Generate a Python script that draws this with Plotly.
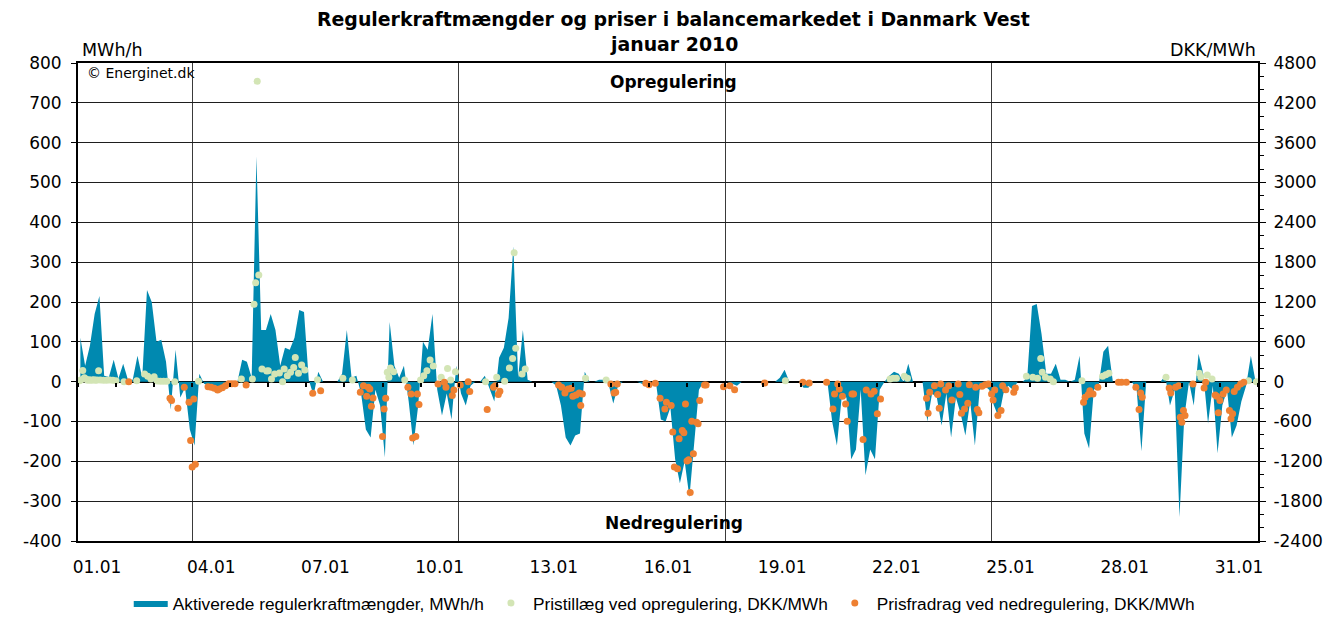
import pandas as pd
import plotly.graph_objects as go

title_line1 = "Regulerkraftmængder og priser i balancemarkedet i Danmark Vest"
title_line2 = "januar 2010"
name_area = "Aktiverede regulerkraftmængder, MWh/h"
name_up = "Pristillæg ved opregulering, DKK/MWh"
name_down = "Prisfradrag ved nedregulering, DKK/MWh"

# Activated regulating power, MWh/h, 3-hour steps (8 per day), 1-31 January 2010
area_mwh = [
    110, 40, 90, 170, 215, 15, 12, 55,          # 01
    8, 45, 5, 5, 65, 10, 230, 200,               # 02
    100, 105, 50, -70, 80, -40, -15, -120,       # 03
    -160, 20, -5, -10, -15, -15, -10, -10,       # 04
    -5, 0, 55, 50, 10, 565, 130, 130,            # 05
    170, 130, 40, 85, 80, 110, 180, 175,         # 06
    5, -35, 25, 0, 0, 0, 0, 20,                  # 07
    130, 10, 15, -30, -120, -140, -20, -60,      # 08
    -190, 150, 40, 10, 40, -50, -160, -60,       # 09
    100, 80, 170, -20, -85, -30, -95, 40,        # 10
    -30, -60, -10, 0, 0, 15, -20, -50,           # 11
    60, 85, 160, 340, 10, 130, 5, 0,             # 12
    0, 0, 0, 0, -10, -60, -140, -160,            # 13
    -135, -130, 25, 0, 0, 5, 5, -5,              # 14
    -55, -10, 0, 0, 0, 0, -5, -10,               # 15
    0, -5, -95, -100, -65, -195, -255, -200,     # 16
    -290, -150, -20, 0, 0, 0, 0, 0,              # 17
    0, -5, -10, 0, 0, 0, 0, 0,                   # 18
    0, 0, 0, 10, 30, 0, 0, 0,                    # 19
    -15, -15, 0, 0, 0, 0, -100, -160,            # 20
    -40, -40, -195, -170, -20, -235, -170, -195, # 21
    -20, 0, 15, 25, 20, 0, 45, 0,                # 22
    0, 0, -100, -30, -40, -110, -30, -140,       # 23
    -40, -80, -135, -50, -160, -20, -10, -20,    # 24
    -60, -90, -30, -10, -20, 0, 0, 10,           # 25
    190, 195, 120, 20, 20, 45, 5, 5,             # 26
    0, 5, 65, -130, -168, -20, -10, 75,          # 27
    90, 0, 0, 0, 0, 0, -20, -175,                # 28
    0, 0, 0, 0, 15, -60, -20, -340,              # 29
    -90, 0, -60, 70, 20, -105, -10, -180,        # 30
    -60, -20, -140, -110, -50, -10, 65, 0,       # 31
]

# Price premium for up-regulation (hour of month, DKK/MWh)
green_hour = [1, 2, 3, 4, 5, 6, 7, 8, 9, 10, 11, 12, 13, 14, 16, 18, 20, 22, 24, 29, 37,
              42, 44, 46, 48, 50, 52, 54, 56, 61, 76, 103, 110, 111, 112, 113, 114, 116, 119,
              120, 122, 124, 127, 129, 130, 132, 134, 136, 137, 139, 141, 143, 151, 167, 173,
              195, 196, 197, 199, 206, 216, 218, 220, 222, 224, 229, 233, 235, 238,
              257, 264, 269, 272, 274, 275, 276, 280, 282, 320, 333, 446,
              512, 514, 516, 521, 523, 598, 602, 605, 607, 608, 610, 613, 615,
              633, 646, 648, 650, 686, 707, 708, 712, 715, 738, 743]
green_dkk = [15, 30, 170, 60, 40, 20, 30, 20, 25, 30, 20, 25, 165, 25, 20, 20, 25, 20, 15, 0, 15,
             115, 80, 40, 75, 10, 5, 5, 5, 0, 5, 40, 40, 1165, 1490, 4525, 1605, 190, 160,
             165, 40, 115, 130, 0, 190, 90, 140, 215, 365, 125, 250, 175, 30, 50, 25,
             140, 65, 205, 150, 25, 25, 90, 165, 325, 235, 65, 200, 25, 150,
             0, 65, 5, 205, 350, 1940, 505, 115, 190, 50, 25, 15,
             40, 50, 50, 80, 50, 80, 65, 50, 350, 140, 65, 40, 0,
             15, 80, 105, 125, 65, 125, 65, 100, 40, 15, 0]

# Price discount for down-regulation (hour of month, DKK/MWh)
orange_hour = [32, 58, 59, 63, 67, 70, 71, 72, 73, 74, 82, 84, 86, 88, 89, 91, 93, 95, 97, 99, 106,
               148, 153, 178, 180, 182, 183, 184, 185, 186, 192, 193, 194, 208, 210, 211, 213, 214,
               215, 227, 231, 232, 236, 237, 241, 246,
               247, 258, 262, 263, 265, 266, 303, 305, 307, 309, 311, 312, 314, 316, 317, 318,
               336, 338, 339, 340, 358, 360, 364, 367,
               370, 371, 374, 375, 376, 378, 379, 381, 382, 383, 384, 385, 386, 387, 388, 390, 391,
               392, 395, 396, 407, 411, 414, 433, 457, 461, 472, 476, 477, 479, 480, 482, 484, 485,
               488, 489, 495,
               497, 500, 502, 504, 506, 535, 536, 537, 540, 542, 543, 544, 547, 549, 551, 555, 556,
               557, 559, 561, 562, 566, 567, 568, 570, 572, 574, 576, 577, 578, 580, 582, 583, 585,
               590, 591,
               634, 635, 637, 638, 640, 643, 656, 658, 661, 667, 669, 670, 671, 688, 689, 692, 694,
               695, 696, 697, 698, 703, 710, 711, 717, 718, 719, 720, 722, 724, 726, 727, 728, 729,
               731, 733, 735]
orange_dkk = [0, -250, -285, -400, -85, -310, -885, -1285, -260, -1245, -75, -85, -100, -125, -110,
              -90, -60, -30, -30, -30, -50,
              -175, -135, -160, -60, -220, -85, -110, -370, -245, -825, -410, -250, -85, -185, -850,
              -825, -185, -345, -35, -10, -85, -210, -125, -50, 0,
              -150, -420, -85, -60, -195, -145, -50, -85, -170, -110, -100, -220, -200, -170, -360,
              -185, -35, -170, -160, -35, -25, -45, -25, -250,
              -410, -310, -360, -760, -1285, -1310, -860, -735, -770, -335, -1195, -1175, -1670,
              -595, -1085, -610, -635, -285, -50, -50, -75, -60, -120, -20, -10, -20, -10, -410,
              -185, -35, -110, -220, -335, -595, -185, -185, -870,
              -125, -185, -145, -485, -260, -250, -475, -160, -60, -195, -400, -35, -125, -60, -275,
              -35, -195, -475, -410, -325, -45, -85, -420, -470, -70, -45, -35, -185, -275, -125,
              -510, -435, -60, -120, -160, -95,
              -310, -235, -195, -135, -185, -85, -10, -10, -10, -85, -420, -170, -235, -95, -170,
              -85, -60, -535, -610, -435, -510, -35, -95, -10, -200, -220, -470, -285, -185, -125,
              -435, -560, -485, -150, -85, -35, -10]

tick_days = [1, 4, 7, 10, 13, 16, 19, 22, 25, 28, 31]
tick_text = ["01.01", "04.01", "07.01", "10.01", "13.01", "16.01", "19.01", "22.01",
             "25.01", "28.01", "31.01"]
mwh_ticks = [-400, -300, -200, -100, 0, 100, 200, 300, 400, 500, 600, 700, 800]
dkk_ticks = [-2400, -1800, -1200, -600, 0, 600, 1200, 1800, 2400, 3000, 3600, 4200, 4800]

month_start = pd.Timestamp("2010-01-01")
month_end = pd.Timestamp("2010-02-01")
area_x = pd.date_range(month_start + pd.Timedelta(minutes=90), periods=len(area_mwh), freq="3h")
green_x = month_start + pd.to_timedelta(green_hour, unit="h")
orange_x = month_start + pd.to_timedelta(orange_hour, unit="h")
tick_x = [month_start + pd.Timedelta(days=d - 1, hours=12) for d in tick_days]

BLUE = "#0089B0"
GREEN = "#D3E5B5"
ORANGE = "#EE8032"
FONT = "DejaVu Sans"
TICK_SIZE = 17

fig = go.Figure()
fig.add_trace(go.Scatter(x=area_x, y=area_mwh, name=name_area, mode="lines",
                         line=dict(width=0, color=BLUE), fill="tozeroy",
                         fillcolor=BLUE, yaxis="y"))
fig.add_trace(go.Scatter(x=green_x, y=green_dkk, name=name_up, mode="markers",
                         marker=dict(size=7, color=GREEN), yaxis="y2"))
fig.add_trace(go.Scatter(x=orange_x, y=orange_dkk, name=name_down, mode="markers",
                         marker=dict(size=7, color=ORANGE), yaxis="y2"))
# helper traces for the label axis and the daily ticks on the zero line
fig.add_trace(go.Scatter(x=[], y=[], xaxis="x2", yaxis="y", showlegend=False, hoverinfo="skip"))
fig.add_trace(go.Scatter(x=[], y=[], xaxis="x3", yaxis="y", showlegend=False, hoverinfo="skip"))

xr = [month_start, month_end]
zero_pos = 400 / 1200

fig.update_layout(
    width=1328, height=618, autosize=False,
    margin=dict(l=78, r=70, t=63, b=77, autoexpand=False),
    paper_bgcolor="white", plot_bgcolor="white",
    font=dict(family=FONT, size=16, color="black"),
    showlegend=True,
    legend=dict(orientation="h", x=0.043, y=-0.130, xanchor="left", yanchor="middle",
                font=dict(family="Liberation Sans", size=17.3, color="black"),
                itemwidth=34, traceorder="normal", bgcolor="rgba(0,0,0,0)"),
    xaxis=dict(type="date", range=xr, tick0="2010-01-04", dtick=7 * 86400000,
               showgrid=True, gridcolor="#3a3a3a", gridwidth=1, showticklabels=False,
               ticks="", showline=True, linecolor="black", linewidth=1.5, mirror=True,
               zeroline=False, automargin=False),
    xaxis2=dict(type="date", range=xr, overlaying="x", anchor="y", side="bottom",
                tickmode="array", tickvals=tick_x, ticktext=tick_text, ticks="",
                showgrid=False, showline=False, zeroline=False, ticklabelstandoff=14,
                tickfont=dict(family=FONT, size=TICK_SIZE), automargin=False),
    xaxis3=dict(type="date", range=xr, overlaying="x", anchor="free", position=zero_pos,
                side="bottom", tick0="2010-01-01", dtick=86400000, ticks="outside",
                ticklen=4, tickwidth=1.5, tickcolor="black", showticklabels=False,
                showgrid=False, showline=False, zeroline=False, automargin=False),
    yaxis=dict(range=[-400, 800], tickmode="array", tickvals=mwh_ticks,
               ticktext=[str(v) for v in mwh_ticks], showgrid=True, gridcolor="#1e1e1e",
               gridwidth=1, ticks="outside", ticklen=5, tickcolor="black",
               showline=True, linecolor="black", linewidth=2,
               zeroline=True, zerolinecolor="black", zerolinewidth=1.5,
               tickfont=dict(family=FONT, size=TICK_SIZE), ticklabelstandoff=6,
               automargin=False),
    yaxis2=dict(range=[-2400, 4800], tickmode="array", tickvals=dkk_ticks,
                ticktext=[str(v) for v in dkk_ticks], overlaying="y", side="right",
                anchor="x", showgrid=False, zeroline=False, ticks="outside", ticklen=6,
                tickcolor="black", showline=True, linecolor="black", linewidth=2,
                minor=dict(tickmode="linear", tick0=0, dtick=200, ticks="outside",
                           ticklen=4, tickcolor="black"),
                tickfont=dict(family=FONT, size=TICK_SIZE), ticklabelstandoff=4,
                automargin=False),
)

fig.add_annotation(text="<b>" + title_line1 + "</b>", xref="paper", yref="paper",
                   x=0.505, y=1.092, xanchor="center", yanchor="middle", showarrow=False,
                   font=dict(family=FONT, size=18.9))
fig.add_annotation(text="<b>" + title_line2 + "</b>", xref="paper", yref="paper",
                   x=0.505, y=1.0397, xanchor="center", yanchor="middle", showarrow=False,
                   font=dict(family=FONT, size=18.9))
fig.add_annotation(text="MWh/h", xref="paper", yref="paper", x=0.002, y=1.027,
                   xanchor="left", yanchor="middle", showarrow=False,
                   font=dict(family=FONT, size=17.5))
fig.add_annotation(text="DKK/MWh", xref="paper", yref="paper", x=1.0, y=1.027,
                   xanchor="right", yanchor="middle", showarrow=False,
                   font=dict(family=FONT, size=17.5))
fig.add_annotation(text="© Energinet.dk", xref="paper", yref="paper", x=0.006, y=0.979,
                   xanchor="left", yanchor="middle", showarrow=False,
                   font=dict(family=FONT, size=14))
fig.add_annotation(text="<b>Opregulering</b>", xref="paper", yref="paper", x=0.505, y=0.960,
                   xanchor="center", yanchor="middle", showarrow=False,
                   font=dict(family=FONT, size=17))
fig.add_annotation(text="<b>Nedregulering</b>", xref="paper", yref="paper", x=0.505, y=0.038,
                   xanchor="center", yanchor="middle", showarrow=False,
                   font=dict(family=FONT, size=17))

fig.write_html("out.html", include_plotlyjs=True,
               config={"displayModeBar": False},
               post_script="document.body.style.margin='0';document.body.style.overflow='hidden';")
